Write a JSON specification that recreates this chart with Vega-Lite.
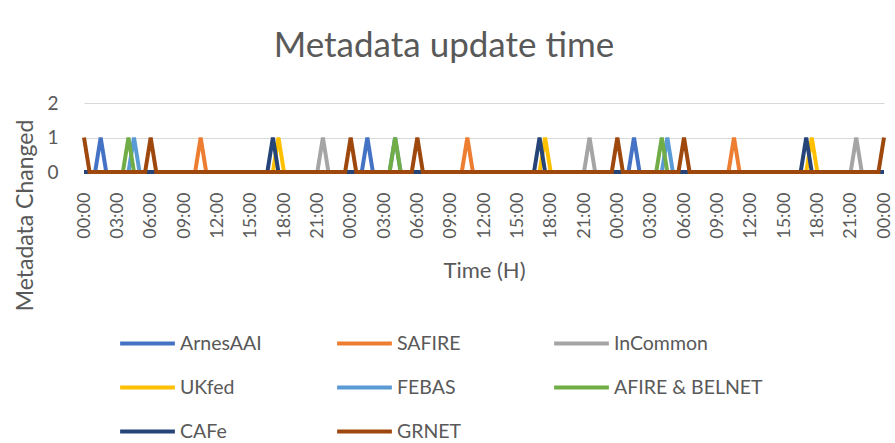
{
  "$schema": "https://vega.github.io/schema/vega-lite/v6.json",
  "width": 800,
  "height": 69,
  "autosize": {"type": "none"},
  "padding": {"left": 84, "top": 103, "right": 11, "bottom": 271},
  "background": "white",
  "config": {"font": "Lato", "view": {"stroke": null}},
  "title": {"text": "Metadata update time", "fontSize": 35, "font": "Lato", "fontWeight": "normal", "color": "#595959", "anchor": "middle", "dx": -40, "offset": 30},
  "data": {"values": [
    {"t": 0, "v": 0, "s": "ArnesAAI"}, {"t": 1, "v": 0, "s": "ArnesAAI"}, {"t": 1.5, "v": 1, "s": "ArnesAAI"}, {"t": 2, "v": 0, "s": "ArnesAAI"}, {"t": 25, "v": 0, "s": "ArnesAAI"}, {"t": 25.5, "v": 1, "s": "ArnesAAI"}, {"t": 26, "v": 0, "s": "ArnesAAI"}, {"t": 49, "v": 0, "s": "ArnesAAI"}, {"t": 49.5, "v": 1, "s": "ArnesAAI"}, {"t": 50, "v": 0, "s": "ArnesAAI"}, {"t": 72, "v": 0, "s": "ArnesAAI"},
    {"t": 0, "v": 0, "s": "SAFIRE"}, {"t": 10, "v": 0, "s": "SAFIRE"}, {"t": 10.5, "v": 1, "s": "SAFIRE"}, {"t": 11, "v": 0, "s": "SAFIRE"}, {"t": 34, "v": 0, "s": "SAFIRE"}, {"t": 34.5, "v": 1, "s": "SAFIRE"}, {"t": 35, "v": 0, "s": "SAFIRE"}, {"t": 58, "v": 0, "s": "SAFIRE"}, {"t": 58.5, "v": 1, "s": "SAFIRE"}, {"t": 59, "v": 0, "s": "SAFIRE"}, {"t": 72, "v": 0, "s": "SAFIRE"},
    {"t": 0, "v": 0, "s": "InCommon"}, {"t": 21, "v": 0, "s": "InCommon"}, {"t": 21.5, "v": 1, "s": "InCommon"}, {"t": 22, "v": 0, "s": "InCommon"}, {"t": 45, "v": 0, "s": "InCommon"}, {"t": 45.5, "v": 1, "s": "InCommon"}, {"t": 46, "v": 0, "s": "InCommon"}, {"t": 69, "v": 0, "s": "InCommon"}, {"t": 69.5, "v": 1, "s": "InCommon"}, {"t": 70, "v": 0, "s": "InCommon"}, {"t": 72, "v": 0, "s": "InCommon"},
    {"t": 0, "v": 0, "s": "UKfed"}, {"t": 17, "v": 0, "s": "UKfed"}, {"t": 17.5, "v": 1, "s": "UKfed"}, {"t": 18, "v": 0, "s": "UKfed"}, {"t": 41, "v": 0, "s": "UKfed"}, {"t": 41.5, "v": 1, "s": "UKfed"}, {"t": 42, "v": 0, "s": "UKfed"}, {"t": 65, "v": 0, "s": "UKfed"}, {"t": 65.5, "v": 1, "s": "UKfed"}, {"t": 66, "v": 0, "s": "UKfed"}, {"t": 72, "v": 0, "s": "UKfed"},
    {"t": 0, "v": 0, "s": "FEBAS"}, {"t": 4, "v": 0, "s": "FEBAS"}, {"t": 4.5, "v": 1, "s": "FEBAS"}, {"t": 5, "v": 0, "s": "FEBAS"}, {"t": 27.5, "v": 0, "s": "FEBAS"}, {"t": 28, "v": 1, "s": "FEBAS"}, {"t": 28.5, "v": 0, "s": "FEBAS"}, {"t": 52, "v": 0, "s": "FEBAS"}, {"t": 52.5, "v": 1, "s": "FEBAS"}, {"t": 53, "v": 0, "s": "FEBAS"}, {"t": 72, "v": 0, "s": "FEBAS"},
    {"t": 0, "v": 0, "s": "AFIRE & BELNET"}, {"t": 3.5, "v": 0, "s": "AFIRE & BELNET"}, {"t": 4, "v": 1, "s": "AFIRE & BELNET"}, {"t": 4.5, "v": 0, "s": "AFIRE & BELNET"}, {"t": 27.5, "v": 0, "s": "AFIRE & BELNET"}, {"t": 28, "v": 1, "s": "AFIRE & BELNET"}, {"t": 28.5, "v": 0, "s": "AFIRE & BELNET"}, {"t": 51.5, "v": 0, "s": "AFIRE & BELNET"}, {"t": 52, "v": 1, "s": "AFIRE & BELNET"}, {"t": 52.5, "v": 0, "s": "AFIRE & BELNET"}, {"t": 72, "v": 0, "s": "AFIRE & BELNET"},
    {"t": 0, "v": 0, "s": "CAFe"}, {"t": 16.5, "v": 0, "s": "CAFe"}, {"t": 17, "v": 1, "s": "CAFe"}, {"t": 17.5, "v": 0, "s": "CAFe"}, {"t": 40.5, "v": 0, "s": "CAFe"}, {"t": 41, "v": 1, "s": "CAFe"}, {"t": 41.5, "v": 0, "s": "CAFe"}, {"t": 64.5, "v": 0, "s": "CAFe"}, {"t": 65, "v": 1, "s": "CAFe"}, {"t": 65.5, "v": 0, "s": "CAFe"}, {"t": 72, "v": 0, "s": "CAFe"},
    {"t": 0, "v": 1, "s": "GRNET"}, {"t": 0.5, "v": 0, "s": "GRNET"}, {"t": 5.5, "v": 0, "s": "GRNET"}, {"t": 6, "v": 1, "s": "GRNET"}, {"t": 6.5, "v": 0, "s": "GRNET"}, {"t": 23.5, "v": 0, "s": "GRNET"}, {"t": 24, "v": 1, "s": "GRNET"}, {"t": 24.5, "v": 0, "s": "GRNET"}, {"t": 29.5, "v": 0, "s": "GRNET"}, {"t": 30, "v": 1, "s": "GRNET"}, {"t": 30.5, "v": 0, "s": "GRNET"}, {"t": 47.5, "v": 0, "s": "GRNET"}, {"t": 48, "v": 1, "s": "GRNET"}, {"t": 48.5, "v": 0, "s": "GRNET"}, {"t": 53.5, "v": 0, "s": "GRNET"}, {"t": 54, "v": 1, "s": "GRNET"}, {"t": 54.5, "v": 0, "s": "GRNET"}, {"t": 71.5, "v": 0, "s": "GRNET"}, {"t": 72, "v": 1, "s": "GRNET"}
  ]},
  "mark": {"type": "line", "strokeWidth": 4, "clip": false},
  "encoding": {
    "x": {"field": "t", "type": "quantitative", "scale": {"domain": [0, 72], "nice": false, "zero": false},
      "axis": {"values": [0,3,6,9,12,15,18,21,24,27,30,33,36,39,42,45,48,51,54,57,60,63,66,69,72],
        "labelExpr": "(datum.value % 24 < 10 ? '0' : '') + (datum.value % 24) + ':00'",
        "labelAngle": 270, "labelFontSize": 18, "labelColor": "#595959", "labelPadding": 20, "labelFont": "Lato", "labelOverlap": false,
        "grid": false, "ticks": false, "domain": false,
        "title": "Time (H)", "titleFontSize": 22, "titleFont": "Lato", "titleFontWeight": "normal", "titleColor": "#595959",
        "titleBaseline": "middle", "titleY": 98}},
    "y": {"field": "v", "type": "quantitative", "scale": {"domain": [0, 2], "nice": false},
      "axis": {"values": [0, 1, 2], "format": ".0f", "labelFontSize": 19, "labelColor": "#595959", "labelPadding": 26, "labelFont": "Lato", "labelOverlap": false,
        "grid": true, "gridColor": "#d9d9d9", "gridWidth": 1, "ticks": false, "domain": false,
        "title": "Metadata Changed", "titleFontSize": 23, "titleFont": "Lato", "titleFontWeight": "normal", "titleColor": "#595959",
        "titleAngle": 270, "titleAlign": "center", "titleBaseline": "middle", "titleX": -59, "titleY": 112}},
    "color": {"field": "s", "type": "nominal",
      "scale": {"domain": ["ArnesAAI", "SAFIRE", "InCommon", "UKfed", "FEBAS", "AFIRE & BELNET", "CAFe", "GRNET"],
        "range": ["#4472C4", "#ED7D31", "#A5A5A5", "#FFC000", "#5B9BD5", "#70AD47", "#264478", "#9E480E"]},
      "legend": {"orient": "none", "direction": "horizontal", "legendX": 34, "legendY": 211, "columns": 3, "title": null,
        "symbolType": "stroke", "symbolSize": 3000, "symbolStrokeWidth": 4,
        "labelFontSize": 19.5, "labelFont": "Lato", "labelColor": "#595959", "labelOffset": 3,
        "rowPadding": 5, "columnPadding": 0, "gridAlign": "all", "labelLimit": 300}}
  }
}
